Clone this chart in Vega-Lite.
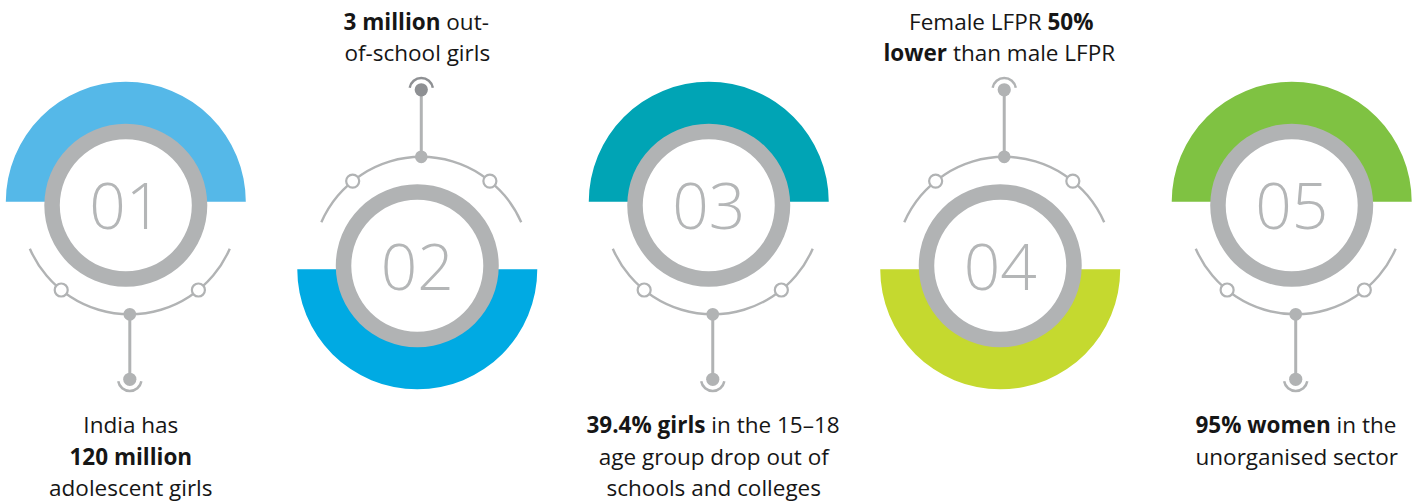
{
  "$schema": "https://vega.github.io/schema/vega-lite/v6.json",
  "width": 1422,
  "height": 501,
  "padding": 0,
  "autosize": "none",
  "background": "white",
  "config": {"view": {"stroke": null}},
  "datasets": {
    "units": [
      {"unit": 1, "num": "01", "textAt": "below"},
      {"unit": 2, "num": "02", "textAt": "above"},
      {"unit": 3, "num": "03", "textAt": "below"},
      {"unit": 4, "num": "04", "textAt": "above"},
      {"unit": 5, "num": "05", "textAt": "below"}
    ],
    "texts": [
      {"unit": 1, "textAt": "below", "line": 1, "seg": "full", "text": "India has", "bold": false, "key": ""},
      {"unit": 1, "textAt": "below", "line": 2, "seg": "full", "text": "120 million", "bold": true, "key": ""},
      {"unit": 1, "textAt": "below", "line": 3, "seg": "full", "text": "adolescent girls", "bold": false, "key": ""},
      {"unit": 2, "textAt": "above", "line": 1, "seg": "pre", "text": "3 million", "bold": true, "key": "2a"},
      {"unit": 2, "textAt": "above", "line": 1, "seg": "post", "text": "out-", "bold": false, "key": "2a"},
      {"unit": 2, "textAt": "above", "line": 2, "seg": "full", "text": "of-school girls", "bold": false, "key": ""},
      {"unit": 3, "textAt": "below", "line": 1, "seg": "pre", "text": "39.4% girls", "bold": true, "key": "3a"},
      {"unit": 3, "textAt": "below", "line": 1, "seg": "post", "text": "in the 15–18", "bold": false, "key": "3a"},
      {"unit": 3, "textAt": "below", "line": 2, "seg": "full", "text": "age group drop out of", "bold": false, "key": ""},
      {"unit": 3, "textAt": "below", "line": 3, "seg": "full", "text": "schools and colleges", "bold": false, "key": ""},
      {"unit": 4, "textAt": "above", "line": 1, "seg": "pre", "text": "Female LFPR", "bold": false, "key": "4a"},
      {"unit": 4, "textAt": "above", "line": 1, "seg": "post", "text": "50%", "bold": true, "key": "4a"},
      {"unit": 4, "textAt": "above", "line": 2, "seg": "pre", "text": "lower", "bold": true, "key": "4b"},
      {"unit": 4, "textAt": "above", "line": 2, "seg": "post", "text": "than male LFPR", "bold": false, "key": "4b"},
      {"unit": 5, "textAt": "below", "line": 1, "seg": "pre", "text": "95% women", "bold": true, "key": "5a"},
      {"unit": 5, "textAt": "below", "line": 1, "seg": "post", "text": "in the", "bold": false, "key": "5a"},
      {"unit": 5, "textAt": "below", "line": 2, "seg": "full", "text": "unorganised sector", "bold": false, "key": ""}
    ]
  },
  "data": {"name": "units"},
  "encoding": {
    "x": {"field": "unit", "type": "quantitative", "stack": null, "scale": {"domain": [0.5684, 5.447], "nice": false, "zero": false}, "axis": null},
    "y": {"field": "textAt", "type": "nominal", "scale": {"type": "point", "domain": ["below", "above"], "range": [205.3, 265.8], "padding": 0}, "axis": null}
  },
  "layer": [
    {
      "transform": [{"filter": "datum.textAt == 'below'"}],
      "mark": {"type": "arc", "theta": -1.5708, "theta2": 1.5708, "radius": 120, "radius2": 72, "yOffset": -3.5},
      "encoding": {"color": {"field": "unit", "type": "nominal", "scale": {"domain": [1, 2, 3, 4, 5], "range": ["#55b8e8", "#00aae3", "#00a4b5", "#c5d92f", "#7fc242"]}, "legend": null}}
    },
    {
      "transform": [{"filter": "datum.textAt == 'above'"}],
      "mark": {"type": "arc", "theta": 1.5708, "theta2": 4.7124, "radius": 120, "radius2": 72, "yOffset": 3.5},
      "encoding": {"color": {"field": "unit", "type": "nominal", "scale": {"domain": [1, 2, 3, 4, 5], "range": ["#55b8e8", "#00aae3", "#00a4b5", "#c5d92f", "#7fc242"]}, "legend": null}}
    },
    {
      "mark": {"type": "arc", "theta": 0, "theta2": 6.2832, "radius": 81.5, "radius2": 66, "color": "#b1b3b4"},
      "encoding": {}
    },
    {
      "mark": {"type": "text", "font": "Open Sans", "fontSize": 64, "fontWeight": 350, "color": "#b4b6b7", "align": "center", "baseline": "alphabetic", "dy": 24},
      "encoding": {"text": {"field": "num"}}
    },
    {
      "transform": [{"filter": "datum.textAt == 'below'"}],
      "mark": {"type": "arc", "theta": 1.981, "theta2": 4.302, "radius": 110.2, "radius2": 107.8, "xOffset": 4, "color": "#b1b3b4"},
      "encoding": {}
    },
    {
      "transform": [{"filter": "datum.textAt == 'above'"}],
      "mark": {"type": "arc", "theta": -1.1606, "theta2": 1.1606, "radius": 110.2, "radius2": 107.8, "xOffset": 4, "color": "#b1b3b4"},
      "encoding": {}
    },
    {
      "transform": [{"filter": "datum.textAt == 'below'"}],
      "mark": {"type": "rule", "xOffset": 4, "yOffset": 109, "y2Offset": 174, "strokeWidth": 3, "color": "#b1b3b4"},
      "encoding": {"y2": {"field": "textAt"}}
    },
    {
      "transform": [{"filter": "datum.textAt == 'above'"}],
      "mark": {"type": "rule", "xOffset": 4, "yOffset": -109, "y2Offset": -176, "strokeWidth": 3, "color": "#b1b3b4"},
      "encoding": {"y2": {"field": "textAt"}}
    },
    {
      "transform": [{"filter": "datum.textAt == 'below'"}],
      "mark": {"type": "point", "shape": "circle", "filled": true, "fill": "white", "stroke": "#b1b3b4", "strokeWidth": 2.2, "opacity": 1, "size": 170, "xOffset": -64.6, "yOffset": 84.7},
      "encoding": {}
    },
    {
      "transform": [{"filter": "datum.textAt == 'below'"}],
      "mark": {"type": "point", "shape": "circle", "filled": true, "fill": "white", "stroke": "#b1b3b4", "strokeWidth": 2.2, "opacity": 1, "size": 170, "xOffset": 72.6, "yOffset": 84.7},
      "encoding": {}
    },
    {
      "transform": [{"filter": "datum.textAt == 'above'"}],
      "mark": {"type": "point", "shape": "circle", "filled": true, "fill": "white", "stroke": "#b1b3b4", "strokeWidth": 2.2, "opacity": 1, "size": 170, "xOffset": -64.6, "yOffset": -84.7},
      "encoding": {}
    },
    {
      "transform": [{"filter": "datum.textAt == 'above'"}],
      "mark": {"type": "point", "shape": "circle", "filled": true, "fill": "white", "stroke": "#b1b3b4", "strokeWidth": 2.2, "opacity": 1, "size": 170, "xOffset": 72.6, "yOffset": -84.7},
      "encoding": {}
    },
    {
      "transform": [{"filter": "datum.textAt == 'below'"}],
      "mark": {"type": "point", "shape": "circle", "filled": true, "color": "#b1b3b4", "opacity": 1, "size": 160, "xOffset": 4, "yOffset": 109},
      "encoding": {}
    },
    {
      "transform": [{"filter": "datum.textAt == 'above'"}],
      "mark": {"type": "point", "shape": "circle", "filled": true, "color": "#b1b3b4", "opacity": 1, "size": 160, "xOffset": 4, "yOffset": -109},
      "encoding": {}
    },
    {
      "transform": [{"filter": "datum.textAt == 'below'"}],
      "mark": {"type": "point", "shape": "circle", "filled": true, "color": "#b1b3b4", "opacity": 1, "size": 175, "xOffset": 4, "yOffset": 174},
      "encoding": {}
    },
    {
      "transform": [{"filter": "datum.textAt == 'above'"}],
      "mark": {"type": "point", "shape": "circle", "filled": true, "color": "#b1b3b4", "fill": {"expr": "datum.unit == 2 ? '#8e9093' : '#b1b3b4'"}, "opacity": 1, "size": 175, "xOffset": 4, "yOffset": -176},
      "encoding": {}
    },
    {
      "transform": [{"filter": "datum.textAt == 'below'"}],
      "mark": {"type": "arc", "theta": 1.745, "theta2": 4.538, "radius": 13, "radius2": 10.5, "xOffset": 4, "yOffset": 174, "color": "#b1b3b4"},
      "encoding": {}
    },
    {
      "transform": [{"filter": "datum.textAt == 'above'"}],
      "mark": {"type": "arc", "theta": -1.396, "theta2": 1.396, "radius": 13, "radius2": 10.5, "xOffset": 4, "yOffset": -176, "color": "#b1b3b4", "fill": {"expr": "datum.unit == 2 ? '#8e9093' : '#b1b3b4'"}},
      "encoding": {}
    },
    {
      "data": {"name": "texts"},
      "mark": {
        "type": "text",
        "font": "Open Sans",
        "fontSize": 22.5,
        "color": "#161616",
        "baseline": "alphabetic",
        "align": {"expr": "datum.seg == 'pre' ? 'right' : (datum.seg == 'post' ? 'left' : 'center')"},
        "fontWeight": {"expr": "datum.bold ? 'bold' : 'normal'"},
        "dx": {"expr": "(datum.textAt == 'below' ? 5 : 0) + (datum.seg == 'full' ? 0 : ((datum.key == '2a' ? 23.2 : datum.key == '3a' ? -8.3 : datum.key == '4a' ? 41.4 : datum.key == '4b' ? -53.2 : 34.0) + (datum.seg == 'post' ? 5.85 : 0)))"},
        "dy": {"expr": "datum.textAt == 'below' ? 227.7 + (datum.line - 1) * 31.5 : -236.3 + (datum.line - 1) * 31.5"}
      },
      "encoding": {"text": {"field": "text"}}
    }
  ]
}
